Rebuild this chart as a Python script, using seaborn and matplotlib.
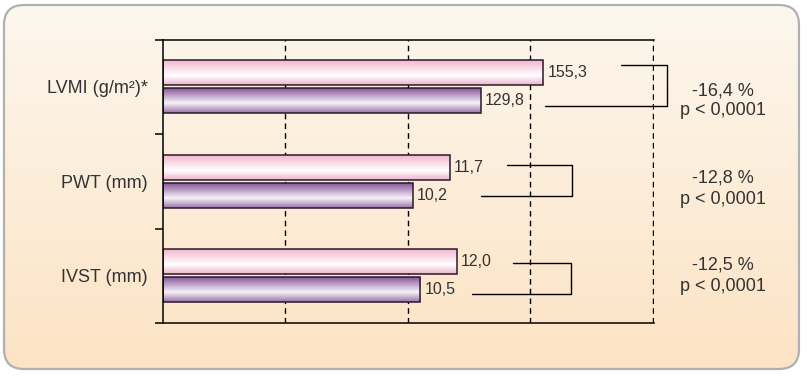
import numpy as np
import pandas as pd
import seaborn as sns
import matplotlib.pyplot as plt
from matplotlib.patches import FancyBboxPatch
from matplotlib.colors import LinearSegmentedColormap

# data
measures = ["LVMI (g/m²)*", "PWT (mm)", "IVST (mm)"]
before = [155.3, 11.7, 12.0]
after = [129.8, 10.2, 10.5]
scale = [10, 1, 1]   # LVMI drawn on a 0-200 axis, the others on 0-20
changes = ["-16,4 %", "-12,8 %", "-12,5 %"]
pvals = ["p < 0,0001", "p < 0,0001", "p < 0,0001"]

df = pd.DataFrame({
    "measure": measures * 2,
    "group": ["before"] * 3 + ["after"] * 3,
    "value": [v / s for v, s in zip(before + after, scale * 2)],
})

sns.set_theme(style="white")
plt.rcParams['font.family'] = ['Liberation Sans', 'DejaVu Sans']

fig = plt.figure(figsize=(8.07, 3.76), dpi=100)

# rounded panel with a light-to-peach gradient
bg = fig.add_axes([0, 0, 1, 1])
bg.set_xlim(0, 807)
bg.set_ylim(376, 0)
bg.axis("off")
box = FancyBboxPatch((4, 5), 795, 364, boxstyle="round,pad=0,rounding_size=20",
                     facecolor="none", edgecolor="#b0b0b0", lw=1.6, zorder=2)
bg.add_patch(box)
bg_cmap = LinearSegmentedColormap.from_list("bg", ["#fdf7ee", "#fce3c4"])
grad = np.linspace(0, 1, 256).reshape(-1, 1)
im = bg.imshow(grad, cmap=bg_cmap, extent=(4, 799, 369, 5), origin="upper",
               aspect="auto", zorder=1)
im.set_clip_path(box)
bg.set_xlim(0, 807)
bg.set_ylim(376, 0)

ax = fig.add_axes([163 / 807, 1 - 323 / 376, 491 / 807, 283.5 / 376])
ax.set_facecolor("none")

sns.barplot(data=df, y="measure", x="value", hue="group", orient="h",
            width=0.6, gap=0.12, palette=["#f5c3d8", "#8e5f9e"],
            edgecolor="#2a1a2a", linewidth=1.1, legend=False, ax=ax)

pink = LinearSegmentedColormap.from_list("pink", [(0, "#f2b6cf"), (0.62, "#ffffff"), (1, "#eeb3cc")])
purple = LinearSegmentedColormap.from_list("purple", [(0, "#87569a"), (0.6, "#f6f2f8"), (1, "#9a70ab")])
for cont, cm in zip(ax.containers, [pink, purple]):
    for bar in cont:
        x0, y0 = bar.get_xy()
        w, h = bar.get_width(), bar.get_height()
        bar.set_facecolor("none")
        bar.set_zorder(2)
        g = ax.imshow(grad, cmap=cm, extent=(x0, x0 + w, y0 + h, y0), origin="upper",
                      aspect="auto", zorder=1.5)
        g.set_clip_path(bar)

for cont, vals in zip(ax.containers, [before, after]):
    ax.bar_label(cont, labels=[f"{v:.1f}".replace(".", ",") for v in vals],
                 padding=3, fontsize=11.5, color="#333333")

ax.set_xlim(0, 20.05)
ax.set_ylim(2.5, -0.5)
ax.set_xlabel("")
ax.set_ylabel("")

# grid and ticks
ax.set_xticks([5, 10, 15, 20])
ax.tick_params(axis="x", length=0, labelbottom=False)
ax.grid(axis="x", linestyle=(0, (4, 3)), color="black", lw=1)
ax.set_axisbelow(True)
ax.set_yticks([-0.5, 0.5, 1.5, 2.5])
ax.set_yticklabels([])
ax.set_yticks([0, 1, 2], labels=measures, minor=True)
ax.tick_params(axis="y", which="major", length=6, width=1.1, direction="out", color="black", left=True)
ax.tick_params(axis="y", which="minor", length=0, pad=11, labelsize=13, labelcolor="#333333")
for s in ["top", "bottom", "left"]:
    ax.spines[s].set_color("black")
    ax.spines[s].set_linewidth(1.1)
ax.spines["right"].set_visible(False)

# brackets
brackets = [
    (18.7, 15.6, 20.6, -0.23, 0.20),
    (14.04, 12.98, 16.7, 0.83, 1.16),
    (14.3, 12.6, 16.65, 1.86, 2.19),
]
for xt, xb, xv, yt, yb in brackets:
    ax.plot([xt, xv, xv, xb], [yt, yt, yb, yb], color="black", lw=1, clip_on=False)

text_y = [(0.044, 0.256), (0.963, 1.196), (1.882, 2.114)]
for (y1, y2), c, p in zip(text_y, changes, pvals):
    ax.text(22.86, y1, c, ha="center", va="center", fontsize=13, color="#333333", clip_on=False)
    ax.text(22.86, y2, p, ha="center", va="center", fontsize=13, color="#333333", clip_on=False)

fig.savefig("out.png", dpi=100, facecolor="white")
